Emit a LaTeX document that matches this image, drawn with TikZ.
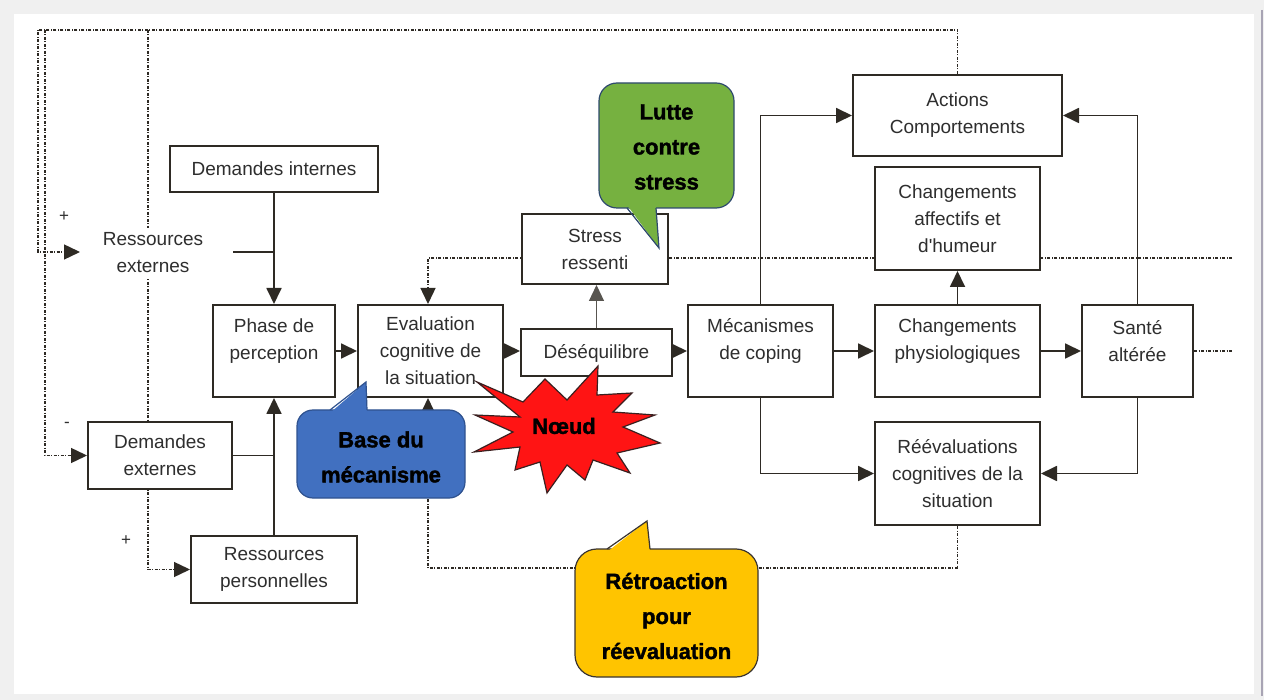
\documentclass[tikz,border=0pt]{standalone}
\usepackage{fontspec}
\setmainfont{Liberation Sans}
\newfontfamily\callfont[BoldFeatures={FakeBold=1.6}]{Liberation Sans}
\usetikzlibrary{arrows.meta}
\pgfdeclarelayer{loops}
\pgfsetlayers{loops,main}
\definecolor{ink}{HTML}{2E2A24}
\definecolor{pagegrey}{HTML}{F0F0F0}
\definecolor{edgegrey}{HTML}{A8A4B4}
\definecolor{callgreen}{HTML}{76B140}
\definecolor{callblue}{HTML}{4170C0}
\definecolor{callyellow}{HTML}{FFC400}
\definecolor{callred}{HTML}{FF1414}
\definecolor{greenedge}{HTML}{2F4A6E}
\definecolor{blueedge}{HTML}{2F528F}
\definecolor{yellowedge}{HTML}{3A3430}
\definecolor{rededge}{HTML}{3A2020}
\begin{document}
\begin{tikzpicture}[x=1pt,y=-1pt,
  box/.style={draw=ink, line width=2pt, fill=white, inner sep=0pt, align=center,
    font=\fontsize{19}{27}\selectfont, text=black!82},
  lbl/.style={inner sep=0pt, align=center, font=\fontsize{19}{27}\selectfont, text=black!82},
  sign/.style={inner sep=0pt, font=\fontsize{17}{17}\selectfont, text=black!82},
  tip/.style={-{Triangle[length=16pt,width=15pt]}},
  flow/.style={draw=ink, line width=1.8pt, tip},
  link/.style={draw=ink, line width=1.8pt},
  fb/.style={draw=ink, line width=1.4pt, dash pattern=on 3pt off 1.5pt on 1pt off 1.5pt},
  fbarrow/.style={fb, tip},
  calltext/.style={inner sep=0pt, align=center, text=black,
    font=\fontsize{22}{35}\selectfont\callfont\bfseries},
]
% page and panel
\begin{pgfonlayer}{loops}
\fill[pagegrey] (0,0) rectangle (1264,700);
\fill[white] (14,14) rectangle (1254,694);
\draw[edgegrey, line width=2pt] (1262,10) -- (1262,696);
\end{pgfonlayer}
\useasboundingbox (0,0) rectangle (1264,700);

% anchor points of the feedback loops
\coordinate (tl) at (38,30);
\coordinate (t2) at (45,30);
\coordinate (t3) at (148,30);
\coordinate (rxin) at (80,252);
\coordinate (resx) at (233,252);
\coordinate (fbL) at (428,258);
\coordinate (fbR) at (1232,258);
\coordinate (fbB) at (428,568);
\coordinate (sout) at (1232,351);

% boxes
\node[box, minimum width=208, minimum height=46] (dint) at (274,169) {Demandes internes};
\node[box, minimum width=122, minimum height=92] (phase) at (274,351) {};
\node[box, minimum width=145, minimum height=92] (eval) at (430.5,351) {Evaluation\\cognitive de\\la situation};
\node[box, minimum width=151, minimum height=47] (deseq) at (596.5,353) {Déséquilibre};
\node[box, minimum width=145, minimum height=92] (meca) at (760.5,351) {};
\node[box, minimum width=146, minimum height=70] (stress) at (595,249) {Stress\\ressenti};
\node[box, minimum width=209, minimum height=81] (actions) at (957.5,115.5) {Actions\\Comportements};
\node[box, minimum width=165, minimum height=103] (affect) at (957.5,218.5) {Changements\\affectifs et\\d\textquotesingle humeur};
\node[box, minimum width=165, minimum height=92] (physio) at (957.5,351) {};
\node[box, minimum width=111, minimum height=92] (sante) at (1137.5,351) {};
\node[box, minimum width=165, minimum height=103] (reeval) at (957.5,473.5) {Réévaluations\\cognitives de la\\situation};
\node[box, minimum width=144, minimum height=67] (dext) at (160,455.5) {Demandes\\externes};
\node[box, minimum width=166, minimum height=67] (rpers) at (274,569.5) {Ressources\\personnelles};

% top-aligned texts of the tall boxes
\node[lbl] (phaset) at (274,341) {Phase de\\perception};
\node[lbl] (mecat) at (760.5,341) {Mécanismes\\de coping};
\node[lbl] (physiot) at (957.5,341) {Changements\\physiologiques};
\node[lbl] (santet) at (1137.5,341) {Santé\\altérée};

% free label and signs
\node[lbl, fill=white, inner sep=5pt] (rext) at (153,253) {Ressources\\externes};
\node[sign] (plusA) at (64,217) {+};
\node[sign] (minus) at (67,425) {-};
\node[sign] (plusB) at (126,541) {+};

% feedback loops (dash-dot), kept under the boxes
\begin{pgfonlayer}{loops}
\draw[fbarrow] (actions.north) |- (tl) -- (tl |- rxin) -- (rxin);
\draw[fbarrow] (t2) |- (dext.west);
\draw[fbarrow] (t3) |- (rpers.west);
\draw[fbarrow] (fbR) -- (fbL) -- (fbL |- eval.north);
\draw[fbarrow] (reeval.south) |- (fbB) -- (fbB |- eval.south);
\draw[fb] (sante.east) -- (sout);
\end{pgfonlayer}

% main flow
\draw[flow] (dint) -- (phase);
\draw[link] (resx) -- (resx -| dint.south);
\draw[flow] (rpers) -- (phase);
\draw[link] (dext.east) -- (dext.east -| phase.south);
\draw[flow] (phase) -- (eval);
\draw[flow] (eval.east) -- (eval.east -| deseq.west);
\draw[flow] (deseq.east |- meca.west) -- (meca.west);
\draw[draw=ink!80, line width=1.2pt, tip] (deseq.north) -- (deseq.north |- stress.south);
\draw[flow] (meca) -- (physio);
\draw[flow] (physio) -- (sante);
\draw[flow] (physio) -- (affect);
\draw[flow] (meca.north) |- (actions.west);
\draw[flow] (meca.south) |- (reeval.west);
\draw[flow] (sante.north) |- (actions.east);
\draw[flow] (sante.south) |- (reeval.east);

% callout: Lutte contre stress
\filldraw[draw=greenedge, fill=callgreen, line width=1.2pt, rounded corners=18pt]
  (599,83) rectangle (734,208);
\fill[callgreen] (627,205) -- (659,248) -- (656,205) -- cycle;
\draw[greenedge, line width=1.2pt] (627,208) -- (659,248) -- (656,208);
\node[calltext] (lutte) at (666.5,147) {Lutte\\contre\\stress};

% callout: Base du mecanisme
\filldraw[draw=blueedge, fill=callblue, line width=1.2pt, rounded corners=16pt]
  (297,410) rectangle (465,498);
\fill[callblue] (330,413) -- (366,382) -- (367,413) -- cycle;
\draw[blueedge, line width=1.2pt] (330,410) -- (366,382) -- (367,410);
\node[calltext] (base) at (381,457) {Base du\\mécanisme};

% burst: Noeud
\filldraw[draw=rededge, fill=callred, line width=1.2pt, line join=miter]
  (477,382) -- (523,402) -- (545,379) -- (567,400) -- (598,366) -- (597,395)
  -- (632,393) -- (613,412) -- (655,415) -- (623,427) -- (660,443) -- (617,453)
  -- (630,473) -- (593,460) -- (585,480) -- (567,465) -- (547,493) -- (540,462)
  -- (515,470) -- (520,447) -- (474,452) -- (513,432) -- (475,415) -- (520,417) -- cycle;
\node[calltext] (noeud) at (564,426) {Nœud};

% callout: Retroaction pour reevaluation
\filldraw[draw=yellowedge, fill=callyellow, line width=1.2pt, rounded corners=22pt]
  (575,549) rectangle (758,677);
\fill[callyellow] (607,552) -- (647,521) -- (650,552) -- cycle;
\draw[yellowedge, line width=1.2pt] (607,549) -- (647,521) -- (650,549);
\node[calltext] (retro) at (666.5,616) {Rétroaction\\pour\\réevaluation};
\end{tikzpicture}
\end{document}
